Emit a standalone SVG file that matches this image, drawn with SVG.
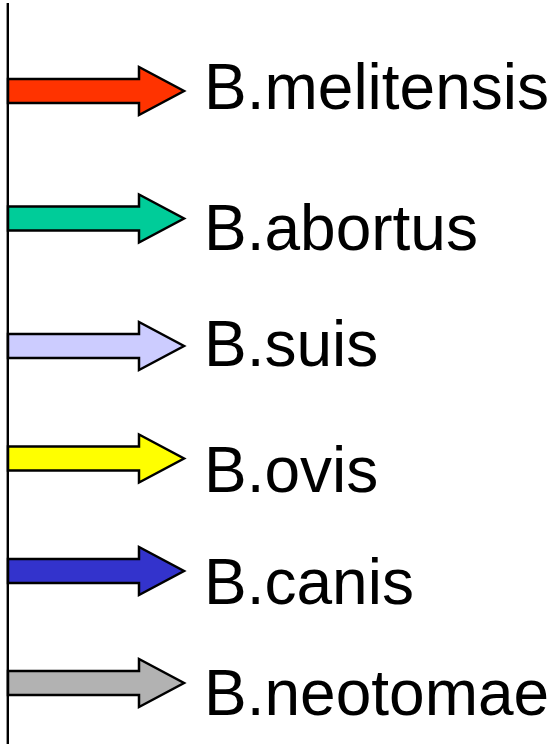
<svg xmlns="http://www.w3.org/2000/svg" width="556" height="754" viewBox="0 0 556 754">
  <style>
    .arrow { stroke: #000; stroke-width: 2.5; stroke-linejoin: miter; }
    .label { font-family: "Liberation Sans", Arial, sans-serif; font-size: 64px; fill: #000; }
    .axis { stroke: #000; stroke-width: 2.4; }
  </style>
  <defs>
    <!-- block arrow centred on y=0, shaft from the axis to the head -->
    <polygon id="blockArrow" points="8,-12 139,-12 139,-24 184,0 139,24 139,12 8,12"/>
  </defs>

  <g id="connectors">
    <line class="axis" x1="7.8" y1="3" x2="7.8" y2="744"/>
  </g>

  <g id="melitensis">
    <use href="#blockArrow" class="arrow" fill="#FF3300" transform="translate(0,91)"/>
    <text class="label" x="204" y="109">B.melitensis</text>
  </g>
  <g id="abortus">
    <use href="#blockArrow" class="arrow" fill="#00CC99" transform="translate(0,218.5)"/>
    <text class="label" x="204" y="250">B.abortus</text>
  </g>
  <g id="suis">
    <use href="#blockArrow" class="arrow" fill="#CCCCFF" transform="translate(0,346)"/>
    <text class="label" x="204" y="366">B.suis</text>
  </g>
  <g id="ovis">
    <use href="#blockArrow" class="arrow" fill="#FFFF00" transform="translate(0,458.5)"/>
    <text class="label" x="204" y="492">B.ovis</text>
  </g>
  <g id="canis">
    <use href="#blockArrow" class="arrow" fill="#3333CC" transform="translate(0,571)"/>
    <text class="label" x="204" y="604">B.canis</text>
  </g>
  <g id="neotomae">
    <use href="#blockArrow" class="arrow" fill="#B2B2B2" transform="translate(0,683)"/>
    <text class="label" x="204" y="715">B.neotomae</text>
  </g>
</svg>
